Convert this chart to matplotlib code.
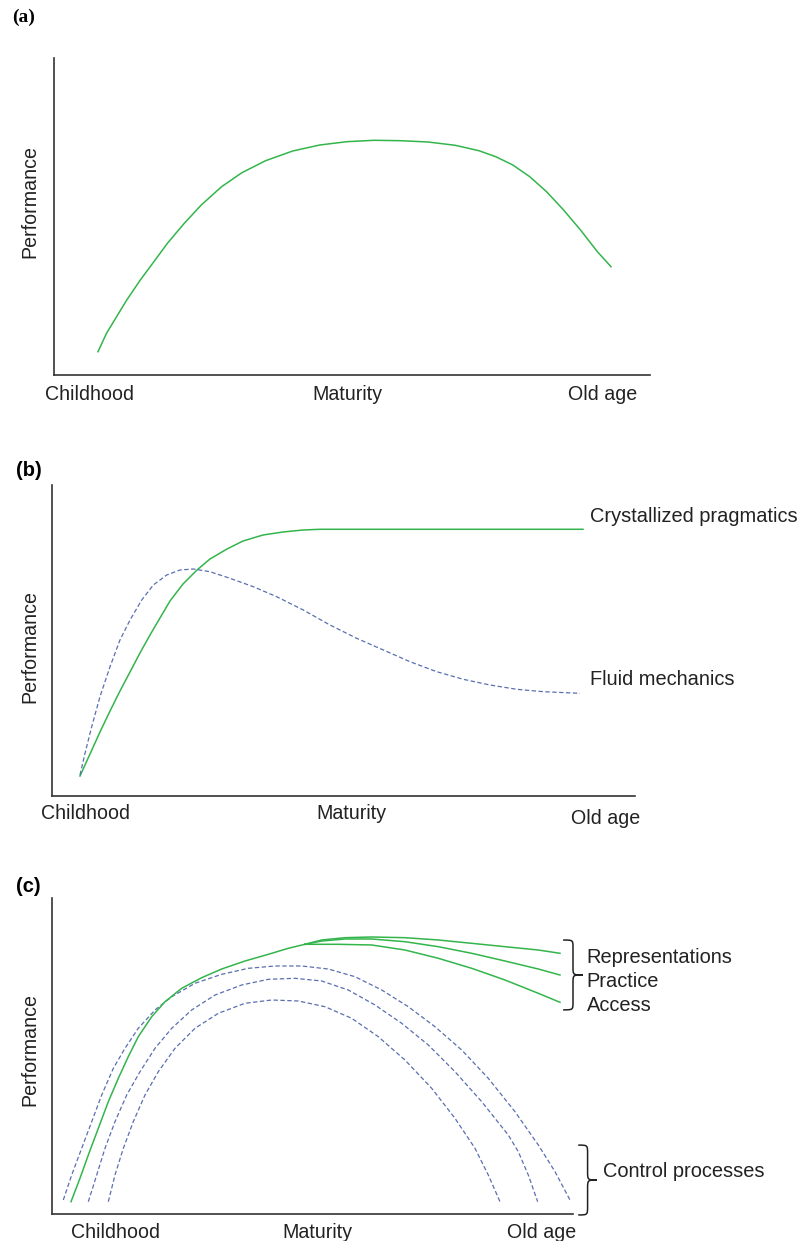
import matplotlib
matplotlib.use('Agg')
import matplotlib.pyplot as plt
from matplotlib.path import Path
from matplotlib.patches import PathPatch
from matplotlib.transforms import ScaledTranslation

plt.rcParams['font.family'] = ['Liberation Sans', 'DejaVu Sans']

# life span on x (0..100), performance on y (0..100)
stages = ['Childhood', 'Maturity', 'Old age']
stage_x_a = [6.0, 49.2, 92.1]
stage_x_b = [5.8, 51.3, 94.9]
stage_x_c = [12.1, 50.9, 94.0]

# (a) single curve
age_a = [7.38, 8.81, 10.50, 12.21, 14.48, 16.76, 19.03, 21.86, 24.71, 28.12,
         31.53, 35.50, 40.05, 44.60, 49.14, 53.69, 58.22, 62.77, 67.32, 71.29,
         74.13, 76.98, 79.82, 82.65, 85.50, 88.34, 91.17, 93.46]
perf_a = [7.35, 13.15, 18.39, 23.66, 29.97, 35.74, 41.55, 47.85, 53.63, 59.40,
          63.82, 67.60, 70.66, 72.56, 73.60, 74.04, 73.91, 73.50, 72.46, 70.76,
          68.86, 66.25, 62.56, 57.82, 52.05, 45.74, 38.90, 34.16]

# (b) crystallized pragmatics vs fluid mechanics
age_prag = [4.80, 6.52, 8.23, 9.95, 11.66, 13.38, 15.09, 16.81, 18.52, 20.24,
            22.47, 24.87, 27.10, 30.02, 32.76, 36.19, 39.62, 43.05, 45.97, 91.08]
perf_prag = [6.43, 13.50, 20.58, 27.33, 33.76, 39.87, 45.98, 51.77, 57.23, 62.70,
             68.17, 72.67, 76.21, 79.42, 81.99, 83.92, 84.89, 85.53, 85.76, 85.76]
age_mech = [4.80, 5.66, 6.81, 8.23, 9.95, 11.66, 13.38, 15.39, 17.38, 19.67,
            21.96, 24.24, 27.10, 30.53, 34.53, 38.54, 43.10, 47.68, 52.26, 56.83,
            61.41, 65.99, 70.55, 75.13, 79.71, 84.27, 90.57]
perf_mech = [6.75, 13.73, 22.28, 31.93, 41.58, 50.16, 56.59, 63.02, 67.85, 71.06,
             72.67, 72.99, 72.12, 70.00, 67.30, 64.08, 59.81, 54.98, 50.71, 46.95,
             43.18, 39.97, 37.52, 35.69, 34.31, 33.54, 33.02]

# (c) shared early rise of the knowledge curves
age_know = [3.65, 5.37, 6.97, 8.89, 10.81, 12.73, 14.64, 16.56, 19.14, 21.69,
            24.89, 28.73, 32.57, 37.04, 41.52, 45.35, 48.56]
perf_know = [3.89, 11.30, 18.67, 27.12, 35.54, 42.94, 49.78, 56.11, 62.44, 67.18,
             71.42, 74.78, 77.53, 80.06, 82.18, 84.08, 85.35]
age_repr = [51.77, 56.24, 61.36, 67.75, 74.15, 80.56, 86.95, 93.34, 97.50]
perf_repr = [86.71, 87.44, 87.66, 87.44, 86.71, 85.66, 84.59, 83.54, 82.50]
age_prac = [51.77, 56.24, 61.36, 67.75, 74.15, 80.56, 86.95, 93.34, 97.50]
perf_prac = [86.39, 87.03, 87.03, 86.17, 84.59, 82.50, 80.06, 77.53, 75.63]
age_acc = [50.48, 54.95, 61.36, 67.75, 74.15, 80.56, 86.95, 93.34, 97.50]
perf_acc = [85.35, 85.35, 85.13, 83.54, 80.92, 77.75, 74.05, 69.84, 66.99]

# (c) control processes
age_ctrl1 = [2.17, 3.78, 5.70, 7.62, 9.54, 11.77, 14.01, 16.56, 19.77, 22.98,
             27.45, 32.57, 37.68, 42.80, 47.93, 53.03, 58.16, 63.28, 68.39, 73.51,
             78.64, 83.74, 88.87, 93.34, 96.55, 99.42]
perf_ctrl1 = [4.43, 12.34, 20.79, 29.21, 37.66, 46.11, 52.44, 58.77, 64.56, 68.77,
              73.01, 75.85, 77.75, 78.48, 78.48, 77.53, 75.09, 70.89, 65.60, 59.27,
              51.90, 42.94, 32.37, 21.84, 13.39, 4.43]
age_ctrl2 = [6.97, 8.58, 10.17, 12.09, 14.34, 16.89, 19.77, 22.98, 26.81, 31.29,
             36.41, 41.52, 46.64, 51.77, 56.87, 62.00, 67.12, 72.23, 77.35, 82.48,
             87.58, 89.50, 91.42, 93.22]
perf_ctrl2 = [3.89, 12.34, 20.79, 29.21, 37.66, 45.03, 52.44, 58.77, 64.56, 69.30,
              72.47, 74.27, 74.59, 73.73, 70.89, 66.14, 60.35, 53.48, 45.03, 35.54,
              25.00, 19.72, 12.34, 3.89]
age_ctrl3 = [10.81, 12.09, 13.69, 15.60, 17.85, 20.40, 23.61, 27.45, 31.92, 37.04,
             42.17, 47.27, 52.40, 57.52, 62.63, 67.75, 72.88, 77.35, 81.19, 83.74,
             85.99]
perf_ctrl3 = [3.89, 12.34, 20.79, 29.21, 37.66, 45.03, 52.44, 58.77, 63.51, 66.68,
              67.72, 67.41, 65.60, 61.93, 56.11, 48.73, 39.78, 30.28, 20.79, 12.34,
              3.89]

GREEN = '#33b54c'
BLUE = '#5a6fb0'
DASH = (0, (3.5, 2))
FS_TICK = 14.1
FS_LAB = 14.4
TXT = '#222222'

fig = plt.figure(figsize=(8, 12.41), dpi=100)
ax_a = fig.add_axes([54/800, 1-375/1241, 596/800, 317/1241])
ax_b = fig.add_axes([52/800, 1-796/1241, 583/800, 311/1241])
ax_c = fig.add_axes([52/800, 1-1214/1241, 521/800, 316/1241])


def setup(ax, ticks, ylab_x, ylab_y, pad):
    ax.set_xlim(0, 100)
    ax.set_ylim(0, 100)
    for s in ['top', 'right']:
        ax.spines[s].set_visible(False)
    for s in ['left', 'bottom']:
        ax.spines[s].set_linewidth(1.2)
        ax.spines[s].set_color('#333333')
    ax.set_yticks([])
    ax.set_xticks(ticks)
    ax.set_xticklabels(stages, fontsize=FS_TICK, color=TXT)
    ax.tick_params(axis='x', length=0, pad=pad)
    ax.text(ylab_x, ylab_y, 'Performance', rotation=90, ha='center', va='center',
            fontsize=FS_TICK, color=TXT, transform=ax.transAxes)


def brace(ax, x0, y_top, y_bot, w, r):
    xm = x0 + w / 2
    ym = (y_top + y_bot) / 2
    verts = [(x0, y_top), (xm, y_top), (xm, y_top), (xm, y_top - r),
             (xm, ym + r),
             (xm, ym), (xm, ym), (x0 + w, ym),
             (xm, ym), (xm, ym), (xm, ym - r),
             (xm, y_bot + r),
             (xm, y_bot), (xm, y_bot), (x0, y_bot)]
    codes = [Path.MOVETO, Path.CURVE4, Path.CURVE4, Path.CURVE4, Path.LINETO,
             Path.CURVE4, Path.CURVE4, Path.CURVE4, Path.CURVE4, Path.CURVE4,
             Path.CURVE4, Path.LINETO, Path.CURVE4, Path.CURVE4, Path.CURVE4]
    ax.add_patch(PathPatch(Path(verts, codes), fill=False, lw=1.1,
                           edgecolor=TXT, clip_on=False))


# (a)
setup(ax_a, stage_x_a, -0.041, 0.547, 7.5)
ax_a.plot(age_a, perf_a, color=GREEN, lw=1.1)
fig.text(12/800, 1-17/1241, '(a)', fontfamily='Liberation Serif', fontweight='bold',
         fontsize=14, va='center')

# (b)
setup(ax_b, stage_x_b, -0.0386, 0.48, 6)
ax_b.plot(age_prag, perf_prag, color=GREEN, lw=1.1)
ax_b.plot(age_mech, perf_mech, color=BLUE, lw=0.9, linestyle=DASH)
ax_b.text(92.3, 90.0, 'Crystallized pragmatics', fontsize=FS_LAB, va='center', color=TXT)
ax_b.text(92.3, 37.3, 'Fluid mechanics', fontsize=FS_LAB, va='center', color=TXT)
lab = ax_b.get_xticklabels()[2]
lab.set_transform(lab.get_transform() + ScaledTranslation(0, -0.05, fig.dpi_scale_trans))
fig.text(16/800, 1-471/1241, '(b)', fontweight='bold', fontsize=14.5, va='center')

# (c)
setup(ax_c, stage_x_c, -0.043, 0.519, 6.5)
for xs, ys in [(age_ctrl1, perf_ctrl1), (age_ctrl2, perf_ctrl2), (age_ctrl3, perf_ctrl3)]:
    ax_c.plot(xs, ys, color=BLUE, lw=0.9, linestyle=DASH)
ax_c.plot(age_know, perf_know, color=GREEN, lw=1.1)
for xs, ys in [(age_repr, perf_repr), (age_prac, perf_prac), (age_acc, perf_acc)]:
    ax_c.plot([age_know[-1]] + xs, [perf_know[-1]] + ys, color=GREEN, lw=1.1)
ax_c.text(102.6, 81.3, 'Representations', fontsize=FS_LAB, va='center', color=TXT)
ax_c.text(102.6, 73.7, 'Practice', fontsize=FS_LAB, va='center', color=TXT)
ax_c.text(102.6, 66.1, 'Access', fontsize=FS_LAB, va='center', color=TXT)
ax_c.text(105.8, 13.3, 'Control processes', fontsize=FS_LAB, va='center', color=TXT)
brace(ax_c, 98.1, 86.7, 64.6, 3.8, 2.5)
brace(ax_c, 101.0, 21.8, -0.3, 3.6, 2.8)
fig.text(16/800, 1-887/1241, '(c)', fontweight='bold', fontsize=14.5, va='center')

fig.savefig('out.png', dpi=100)
